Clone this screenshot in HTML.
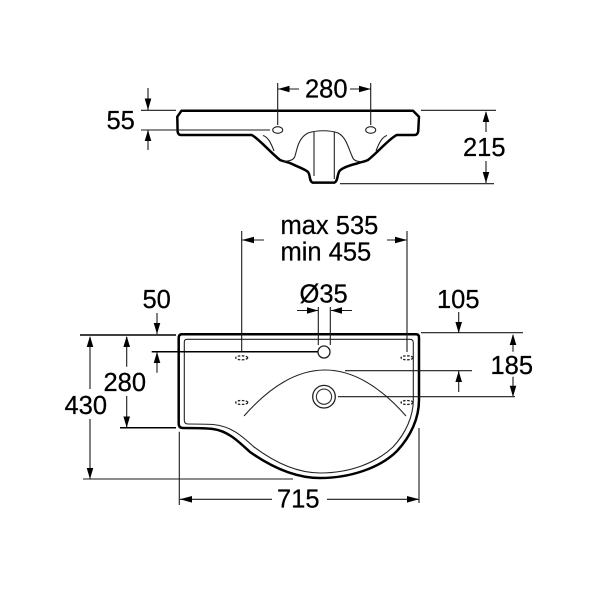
<!DOCTYPE html>
<html>
<head>
<meta charset="utf-8">
<style>
html,body{margin:0;padding:0;background:#fff}
svg{display:block}
text{font-family:"Liberation Sans",Arial,sans-serif;font-size:25.5px;fill:#000;stroke:#000;stroke-width:.25}
.d{stroke:#1a1a1a;stroke-width:1.1;fill:none}
.k{stroke:#000;stroke-width:1.5;fill:none}
.o{stroke:#000;stroke-width:2.5;fill:none;stroke-linejoin:round}
.i{stroke:#222;stroke-width:1.1;fill:none}
.a{fill:#000;stroke:none}
.h{stroke:#222;stroke-width:1.3;fill:none;stroke-dasharray:2.5 1.5}
</style>
</head>
<body>
<svg width="600" height="600" viewBox="0 0 600 600" xmlns="http://www.w3.org/2000/svg">
<rect width="600" height="600" fill="#fff"/>

<!-- Top elevation -->
<path class="o" d="M181.5 110.7 H413 L419 116.7 L418.2 131.5 Q417.5 135 414.5 135 H396.7 C390 138 378 152 368 160 C364 162 360 162 357 163.5 C350 165 342 168 339.5 171 C337 175 338 181 334.5 182.6 H312.5 C309 181 310.5 175 308 172 C305 169 298 167 291 163.5 C288 162 285 162 280 160 C270 152 258 138 251.7 135 H181 Q178 135 177.6 131.5 L177.3 116.7 Z"/>
<path class="i" d="M283 161.5 C290 161 294 160 295 156 C297 150 298 138 308 133 C317 130 330 130 338 133 C346 137 348 147 352 156 C353 160 356 161.5 360 161.5"/>
<path class="i" d="M263 135.5 C268 137 271 143 274 151"/>
<path class="i" d="M387 135.5 C382 137 379 143 376 151"/>
<path class="i" d="M314 132 V176 M334.3 132 V179"/>
<ellipse class="i" cx="277.7" cy="130" rx="5" ry="3.3" stroke-width="1.3"/>
<ellipse class="i" cx="370.7" cy="130" rx="5" ry="3.3" stroke-width="1.3"/>

<!-- 280 top -->
<path class="d" d="M277.7 83 V125 M370.7 83 V125 M278 89 H299 M350 89 H370.7"/>
<path class="a" d="M278 89 L289.5 85.7 V92.3 Z M370.7 89 L359 85.7 V92.3 Z"/>
<text x="305" y="97.5">280</text>

<!-- 55 -->
<path class="d" d="M141 110.3 H176 M141 130 H270 M148 88 V110 M148 130 V150"/>
<path class="a" d="M148 110 L144.7 98.5 H151.3 Z M148 130 L144.7 141 H151.3 Z"/>
<text x="106.5" y="129">55</text>

<!-- 215 -->
<path class="d" d="M421 110.3 H496 M340 183.7 H494 M486 112 V132 M486 161 V183"/>
<path class="a" d="M486 111 L482.7 122 H489.3 Z M486 183 L482.7 172 H489.3 Z"/>
<text x="463" y="156">215</text>

<!-- Plan view outline -->
<path class="o" d="M182 334.3 H416 Q419 334.3 419 337.5 V400 C419 418 411 436 397 451 C380 468 350 478 320 478 C295 478 270 466 250 452 C238 441 228 431 213 429 C205 428 195 428 183 428 Q178.7 428 178.7 423.5 V338 Q178.7 334.3 182 334.3 Z"/>
<path class="i" stroke-width="1.1" d="M187 339.3 H410 Q413.3 339.3 413.3 343 V400 C413.3 416 406 433 393 447 C376 463 350 473 320 473 C296 473 274 462 254 447 C242 436 231 426 213 424.5 C205 424 198 424 188 424 Q184.3 424 184.3 420 V342 Q184.3 339.3 187 339.3 Z"/>
<path class="i" d="M244 416 Q325 324 406 416"/>

<circle cx="324" cy="352" r="6" fill="#fff" stroke="#222" stroke-width="1.3"/>
<circle cx="324" cy="396.7" r="11.3" fill="#fff" stroke="#222" stroke-width="1.3"/>
<circle cx="324" cy="396.7" r="7.6" fill="#fff" stroke="#333" stroke-width="1.1"/>

<ellipse class="h" cx="241.7" cy="357.8" rx="6" ry="2"/>
<ellipse class="h" cx="241.7" cy="402.5" rx="6" ry="2"/>
<ellipse class="h" cx="407" cy="357.8" rx="6" ry="2"/>
<ellipse class="h" cx="407" cy="402.5" rx="6" ry="2"/>

<!-- max/min -->
<path class="d" d="M241.7 231 V352 M407 231 V352 M242 240 H264 M387 240 H407"/>
<path class="a" d="M242 240 L254 236.7 V243.3 Z M407 240 L395 236.7 V243.3 Z"/>
<text x="280.5" y="234">max 535</text>
<text x="280.5" y="260.5">min 455</text>

<!-- dia 35 -->
<path class="d" d="M318.3 307 V345 M330.3 307 V345 M297 310.5 H318 M331 310.5 H352"/>
<path class="a" d="M318 310.5 L307 307.2 V313.8 Z M331 310.5 L342 307.2 V313.8 Z"/>
<text x="299.5" y="302.5">Ø35</text>

<!-- 50 -->
<path class="k" d="M151.7 351.7 H318"/>
<path class="d" d="M157 313 V334 M157 352 V372.7"/>
<path class="a" d="M157 334 L153.7 323 H160.3 Z M157 352 L153.7 363 H160.3 Z"/>
<text x="142.5" y="308">50</text>

<!-- 280 left -->
<path class="k" d="M80 335 H176" stroke-width="1.2"/>
<path class="k" d="M120 427.7 H176" stroke-width="1.2"/>
<path class="d" d="M126.7 337 V366.7 M126.7 396 V427"/>
<path class="a" d="M126.7 336 L123.4 347 H130 Z M126.7 427.5 L123.4 416.5 H130 Z"/>
<text x="103.5" y="391">280</text>

<!-- 430 -->
<path class="d" d="M90 337 V389 M90 419 V479 M83 479 H293"/>
<path class="a" d="M90 336 L86.7 347 H93.3 Z M90 479 L86.7 468 H93.3 Z"/>
<text x="64.5" y="414">430</text>

<!-- 715 -->
<path class="d" d="M179.3 431.7 V505 M419 428 V503 M180 499.3 H272 M327 499.3 H419"/>
<path class="a" d="M180 499.3 L192 496 V502.6 Z M419 499.3 L407 496 V502.6 Z"/>
<text x="277" y="507.5">715</text>

<!-- 105 -->
<path class="d" d="M421 332.7 H523 M345 370.7 H472 M338 396.7 H515 M458.7 312 V333 M458.7 371 V392"/>
<path class="a" d="M458.7 333 L455.4 322 H462 Z M458.7 371 L455.4 382 H462 Z"/>
<text x="437" y="308">105</text>

<!-- 185 -->
<path class="d" d="M513 335 V351.7 M513 376.7 V396"/>
<path class="a" d="M513 334 L509.7 345 H516.3 Z M513 396.7 L509.7 385.7 H516.3 Z"/>
<text x="490.5" y="374">185</text>
</svg>
</body>
</html>
